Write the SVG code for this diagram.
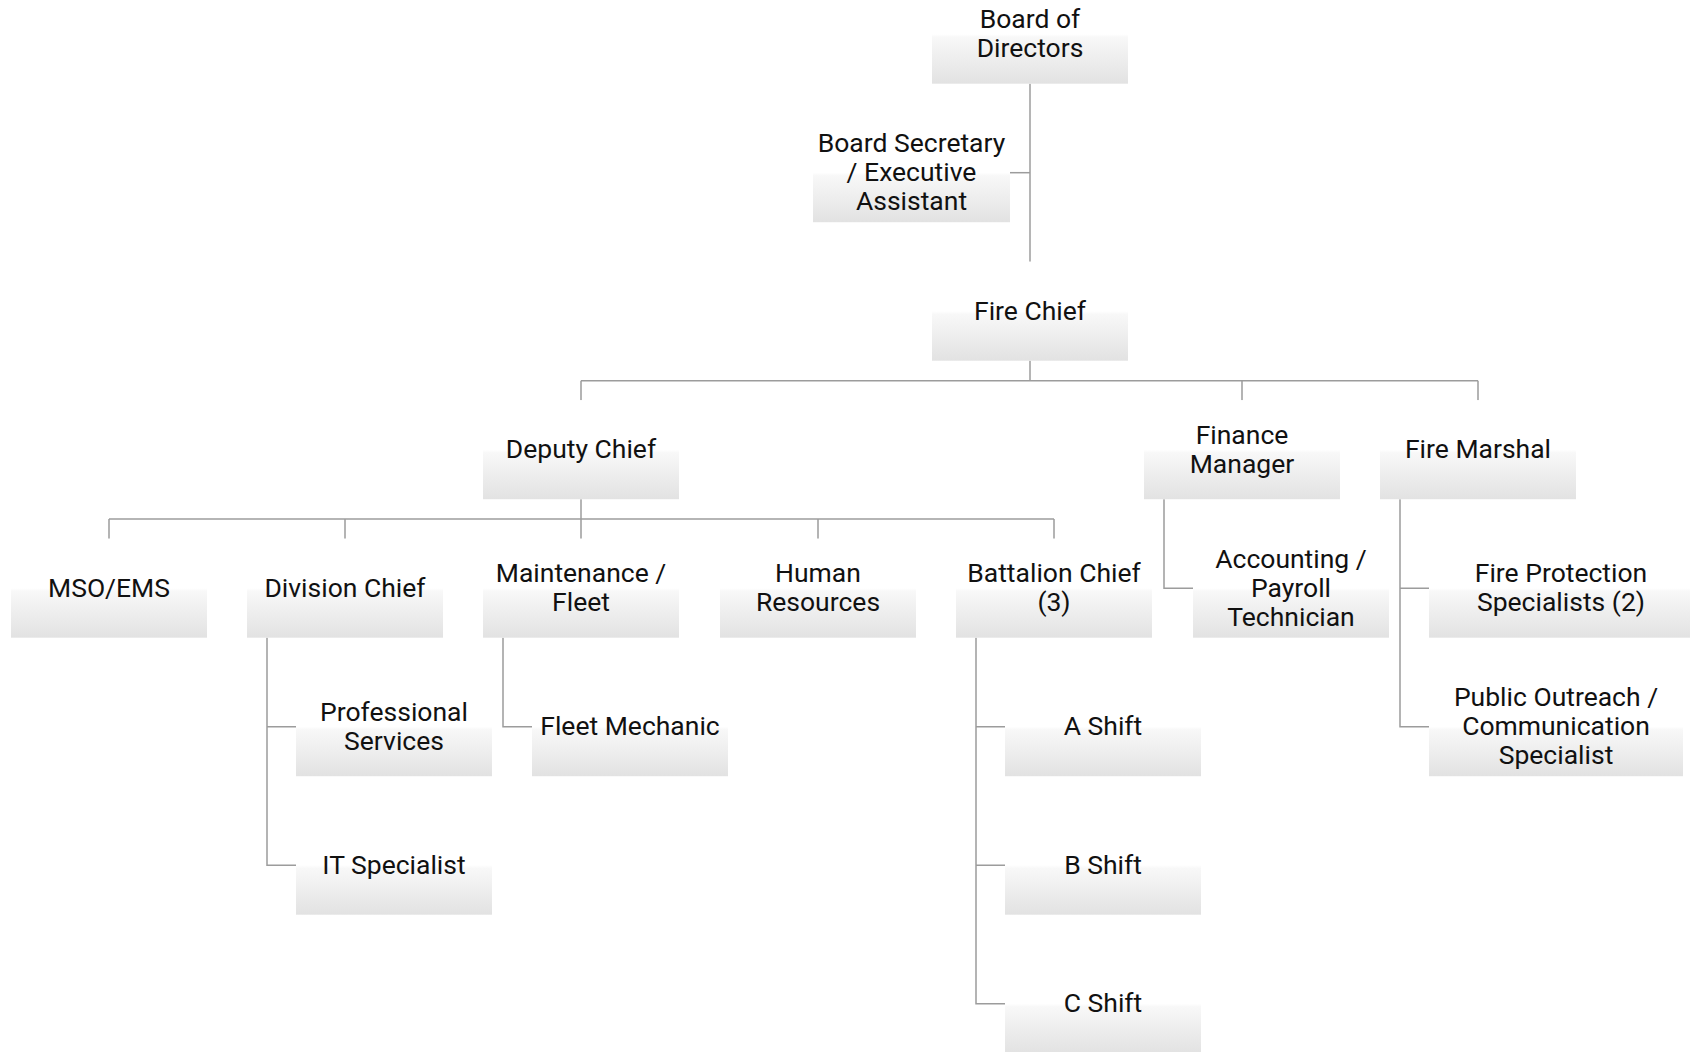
<svg xmlns="http://www.w3.org/2000/svg" width="1690" height="1052" viewBox="0 0 1690 1052">
  <defs>
    <linearGradient id="boxfill" x1="0" y1="0" x2="0" y2="1">
      <stop offset="0" stop-color="#ffffff"/>
      <stop offset="0.5" stop-color="#ffffff"/>
      <stop offset="0.53" stop-color="#f8f8f8"/>
      <stop offset="1" stop-color="#e2e2e2"/>
    </linearGradient>
    <style>
      .box { fill: url(#boxfill); stroke: none; }
      .lbl { font-family: Roboto, "Liberation Sans", sans-serif; font-size: 26.5px; fill: #111111; text-anchor: middle; }
      .conn { fill: none; stroke: #9c9c9c; stroke-width: 1.5; }
    </style>
  </defs>
  <rect x="0" y="0" width="1690" height="1052" fill="#ffffff"/>

  <g id="connectors" class="conn">
    <path d="M1030 83.7 V261.7"/>
    <path d="M1010 172.7 H1030"/>
    <path d="M1030 360.7 V380.7"/>
    <path d="M581 380.7 H1478"/>
    <path d="M581 380.7 V400.2 M1242 380.7 V400.2 M1478 380.7 V400.2"/>
    <path d="M581 499.2 V519"/>
    <path d="M109 519 H1054"/>
    <path d="M109 519 V538.7 M345 519 V538.7 M581 519 V538.7 M818 519 V538.7 M1054 519 V538.7"/>
    <path d="M1164 499.2 V588.2 H1193"/>
    <path d="M1400 499.2 V726.7 H1429 M1400 588.2 H1429"/>
    <path d="M267 637.7 V865.2 H296 M267 726.7 H296"/>
    <path d="M503 637.7 V726.7 H532"/>
    <path d="M976 637.7 V1003.7 H1005 M976 726.7 H1005 M976 865.2 H1005"/>
  </g>

  <g id="board">
    <rect class="box" x="932" y="-15.3" width="196" height="99"/>
    <text class="lbl" x="1030" y="28.2">Board of</text>
    <text class="lbl" x="1030" y="57.2">Directors</text>
  </g>
  <g id="secretary">
    <rect class="box" x="813" y="123.2" width="197" height="99"/>
    <text class="lbl" x="911.5" y="152.2">Board Secretary</text>
    <text class="lbl" x="911.5" y="181.2">/ Executive</text>
    <text class="lbl" x="911.5" y="210.2">Assistant</text>
  </g>
  <g id="fire-chief">
    <rect class="box" x="932" y="261.7" width="196" height="99"/>
    <text class="lbl" x="1030" y="319.7">Fire Chief</text>
  </g>
  <g id="deputy-chief">
    <rect class="box" x="483" y="400.2" width="196" height="99"/>
    <text class="lbl" x="581" y="458.2">Deputy Chief</text>
  </g>
  <g id="finance-manager">
    <rect class="box" x="1144" y="400.2" width="196" height="99"/>
    <text class="lbl" x="1242" y="443.7">Finance</text>
    <text class="lbl" x="1242" y="472.7">Manager</text>
  </g>
  <g id="fire-marshal">
    <rect class="box" x="1380" y="400.2" width="196" height="99"/>
    <text class="lbl" x="1478" y="458.2">Fire Marshal</text>
  </g>
  <g id="mso-ems">
    <rect class="box" x="11" y="538.7" width="196" height="99"/>
    <text class="lbl" x="109" y="596.7">MSO/EMS</text>
  </g>
  <g id="division-chief">
    <rect class="box" x="247" y="538.7" width="196" height="99"/>
    <text class="lbl" x="345" y="596.7">Division Chief</text>
  </g>
  <g id="maintenance-fleet">
    <rect class="box" x="483" y="538.7" width="196" height="99"/>
    <text class="lbl" x="581" y="582.2">Maintenance /</text>
    <text class="lbl" x="581" y="611.2">Fleet</text>
  </g>
  <g id="human-resources">
    <rect class="box" x="720" y="538.7" width="196" height="99"/>
    <text class="lbl" x="818" y="582.2">Human</text>
    <text class="lbl" x="818" y="611.2">Resources</text>
  </g>
  <g id="battalion-chief">
    <rect class="box" x="956" y="538.7" width="196" height="99"/>
    <text class="lbl" x="1054" y="582.2">Battalion Chief</text>
    <text class="lbl" x="1054" y="611.2">(3)</text>
  </g>
  <g id="accounting">
    <rect class="box" x="1193" y="538.7" width="196" height="99"/>
    <text class="lbl" x="1291" y="567.7">Accounting /</text>
    <text class="lbl" x="1291" y="596.7">Payroll</text>
    <text class="lbl" x="1291" y="625.7">Technician</text>
  </g>
  <g id="fire-protection">
    <rect class="box" x="1429" y="538.7" width="264" height="99"/>
    <text class="lbl" x="1561" y="582.2">Fire Protection</text>
    <text class="lbl" x="1561" y="611.2">Specialists (2)</text>
  </g>
  <g id="public-outreach">
    <rect class="box" x="1429" y="677.2" width="254" height="99"/>
    <text class="lbl" x="1556" y="706.2">Public Outreach /</text>
    <text class="lbl" x="1556" y="735.2">Communication</text>
    <text class="lbl" x="1556" y="764.2">Specialist</text>
  </g>
  <g id="professional-services">
    <rect class="box" x="296" y="677.2" width="196" height="99"/>
    <text class="lbl" x="394" y="720.7">Professional</text>
    <text class="lbl" x="394" y="749.7">Services</text>
  </g>
  <g id="it-specialist">
    <rect class="box" x="296" y="815.7" width="196" height="99"/>
    <text class="lbl" x="394" y="873.7">IT Specialist</text>
  </g>
  <g id="fleet-mechanic">
    <rect class="box" x="532" y="677.2" width="196" height="99"/>
    <text class="lbl" x="630" y="735.2">Fleet Mechanic</text>
  </g>
  <g id="a-shift">
    <rect class="box" x="1005" y="677.2" width="196" height="99"/>
    <text class="lbl" x="1103" y="735.2">A Shift</text>
  </g>
  <g id="b-shift">
    <rect class="box" x="1005" y="815.7" width="196" height="99"/>
    <text class="lbl" x="1103" y="873.7">B Shift</text>
  </g>
  <g id="c-shift">
    <rect class="box" x="1005" y="954.2" width="196" height="99"/>
    <text class="lbl" x="1103" y="1012.2">C Shift</text>
  </g>
</svg>
